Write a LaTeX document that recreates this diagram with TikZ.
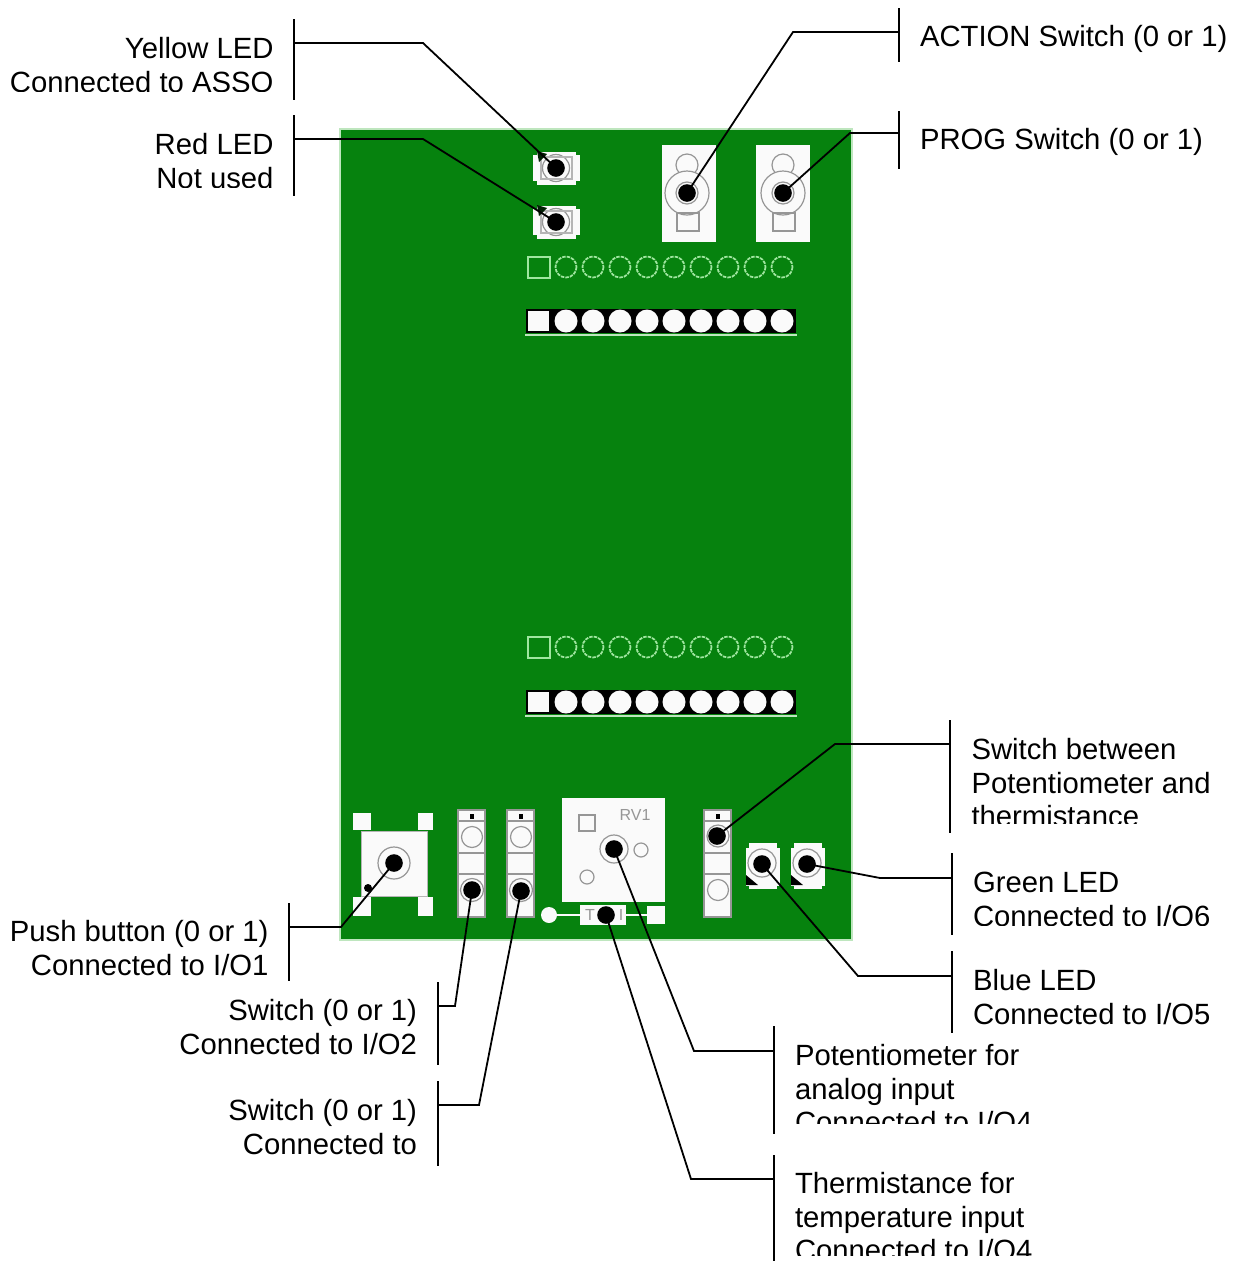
\documentclass[tikz,border=0pt]{standalone}
\usepackage{fontspec}
\setmainfont{Liberation Sans}
\definecolor{board}{RGB}{6,130,14}
\definecolor{edge}{RGB}{190,230,190}
\definecolor{pale}{RGB}{160,230,160}
\definecolor{ringc}{RGB}{150,150,150}
\definecolor{padw}{RGB}{250,250,250}
\tikzset{
  dotn/.style={circle,fill=black,draw=none,inner sep=0pt,minimum size=13.2pt},
  lead/.style={draw=black,line width=1.35pt,line join=miter},
  bar/.style={draw=black,line width=1.35pt},
  lbl/.style={inner sep=0pt,outer sep=0pt,font=\fontsize{21.95}{25.2}\selectfont},
  lblr/.style={lbl,anchor=north east,align=right},
  lbll/.style={lbl,anchor=north west,align=left},
  ring/.style={draw=ringc,line width=0.9pt},
  pad/.style={fill=padw,draw=none},
  strip/.style={fill=padw,draw=ringc,line width=1.2pt},
  hole/.style={draw=pale,line width=1.3pt,dash pattern=on 2.6pt off 0.8pt},
}
\begin{document}
\begin{tikzpicture}[x=0.75pt,y=-0.75pt]
\useasboundingbox (0,0) rectangle (1237,1261);
\fill[white] (0,0) rectangle (1237,1261);
% board
\fill[board,draw=edge,line width=1.2pt] (340,129) rectangle (852,940);
% top LEDs
\foreach \y in {168,222}{
  \fill[pad] (533,\y-13) rectangle (580,\y+13);
  \fill[pad] (537,\y-16) rectangle (576,\y+17);
  \draw[ring] (556,\y) circle (13.5);
  \draw[ring,draw=ringc!70] (541,\y-11) -- (541,\y+11) -- (572,\y+11) -- (572,\y-11) -- cycle;
  \fill[black!75!board] (537,\y-17) -- (547,\y-14) -- (539,\y-6) -- cycle;
}
% top switches
\foreach \x/\a/\b in {687/662/716,783/756/810}{
  \fill[pad] (\a,145) rectangle (\b,242);
  \draw[ring] (\x,165) circle (11);
  \draw[ring,fill=padw] (\x,193) circle (22);
  \draw[ring] (\x,193) circle (11);
  \draw[ring] (\x-10,213) rectangle (\x+12,231);
}
% header rows
\foreach \y in {267,647}{
  \draw[pale,line width=1pt] (528,\y-10) rectangle (550,\y+11);
  \foreach \i in {0,...,8}{ \draw[hole] (566+27*\i,\y) circle (10.5); }
}
\foreach \y in {321,702}{
  \fill[black] (526,\y-12) rectangle (796,\y+12);
  \draw[edge,line width=1pt] (525,\y+14) -- (797,\y+14);
  \fill[pad] (528,\y-10) rectangle (549,\y+10);
  \foreach \i in {0,...,8}{ \fill[padw] (566+27*\i,\y) circle (11.5); }
}
% push button
\fill[pad] (353,813) rectangle (371,830);
\fill[pad] (418,813) rectangle (433,830);
\fill[pad] (353,897) rectangle (371,916);
\fill[pad] (418,897) rectangle (433,916);
\fill[pad,draw=ringc!70,line width=0.7pt] (361,831) rectangle (427,896);
\draw[ring] (394,863) circle (16);
\fill[black] (368,888) circle (4);
% slide switches
\foreach \x in {472,521,718}{
  \draw[strip] (\x-14,810) rectangle (\x+13,917);
  \draw[ring] (\x-14,821) -- (\x+13,821);
  \draw[ring] (\x-14,853) -- (\x+13,853);
  \draw[ring] (\x-14,874) -- (\x+13,874);
  \fill[black] (\x-2,814) rectangle (\x+2,819);
}
\foreach \x in {472,521}{
  \draw[ring] (\x,837) circle (10.5);
  \draw[ring] (\x,890) circle (11.5);
}
\draw[ring] (718,836) circle (11);
\draw[ring] (718,890) circle (10.5);
% RV1
\fill[pad] (562,798) rectangle (665,902);
\draw[ring] (579,815) rectangle (595,831);
\draw[ring] (614,849) circle (14);
\draw[ring] (641,850) circle (7);
\draw[ring] (587,877) circle (7);
\node[inner sep=0pt,text=ringc,font=\fontsize{12}{14}\selectfont] (rvlabel) at (635,815) {RV1};
% thermistor
\draw[padw,line width=1.2pt] (549,915) -- (647,915);
\fill[padw] (549,915) circle (8);
\fill[pad] (580,905) rectangle (626,925);
\fill[pad] (647,906) rectangle (665,924);
\node[inner sep=0pt,text=ringc,font=\fontsize{12}{14}\selectfont] (tlabel) at (590,915) {T};
\node[inner sep=0pt,text=ringc,font=\fontsize{12}{14}\selectfont] (ilabel) at (621,915) {I};
% bottom LEDs
\foreach \x in {762,807}{
  \fill[pad] (\x-16,848) rectangle (\x+18,886);
  \fill[pad] (\x-13,843) rectangle (\x+15,889);
  \draw[ring] (\x,863) circle (14);
  \fill[black] (\x-16,875) -- (\x-16,885) -- (\x-4,885) -- cycle;
}
% probe dots
\node[dotn] (yled) at (556,168) {};
\node[dotn] (rled) at (556,222) {};
\node[dotn] (act) at (687,193) {};
\node[dotn] (prog) at (783,193) {};
\node[dotn] (sel) at (717,836) {};
\node[dotn] (gled) at (807,864) {};
\node[dotn] (bled) at (762,864) {};
\node[dotn] (pot) at (614,849) {};
\node[dotn] (therm) at (606,915) {};
\node[dotn] (push) at (394,863) {};
\node[dotn] (swa) at (472,890) {};
\node[dotn] (swb) at (521,891) {};
% bars
\coordinate (yA) at (294,19);  \coordinate (yB) at (294,100); \coordinate (yM) at (294,43);  \coordinate (yE) at (423,43);
\coordinate (rA) at (294,115); \coordinate (rB) at (294,196); \coordinate (rM) at (294,139); \coordinate (rE) at (423,139);
\coordinate (aA) at (899,8);   \coordinate (aB) at (899,62);  \coordinate (aM) at (899,32);  \coordinate (aE) at (793,32);
\coordinate (pA) at (899,111); \coordinate (pB) at (899,169); \coordinate (pM) at (899,133); \coordinate (pE) at (850,133);
\coordinate (sA) at (950,720); \coordinate (sB) at (950,833); \coordinate (sM) at (950,744); \coordinate (sE) at (835,744);
\coordinate (gA) at (952,853); \coordinate (gB) at (952,935); \coordinate (gM) at (952,878); \coordinate (gE) at (880,878);
\coordinate (bA) at (952,951); \coordinate (bB) at (952,1033);\coordinate (bM) at (952,976); \coordinate (bE) at (858,976);
\coordinate (oA) at (774,1026);\coordinate (oB) at (774,1134);\coordinate (oM) at (774,1051);\coordinate (oE) at (694,1051);
\coordinate (tA) at (774,1155);\coordinate (tB) at (774,1261);\coordinate (tM) at (774,1179);\coordinate (tE) at (691,1179);
\coordinate (uA) at (289,903); \coordinate (uB) at (289,981); \coordinate (uM) at (289,927); \coordinate (uE) at (341,927);
\coordinate (vA) at (438,982); \coordinate (vB) at (438,1065);\coordinate (vM) at (438,1006);\coordinate (vE) at (455,1006);
\coordinate (wA) at (438,1081);\coordinate (wB) at (438,1166);\coordinate (wM) at (438,1105);\coordinate (wE) at (479,1105);
\foreach \n in {y,r,a,p,s,g,b,o,t,u,v,w}{ \draw[bar] (\n A) -- (\n B); }
\draw[lead] (yM) -- (yE) -- (yled.center);
\draw[lead] (rM) -- (rE) -- (rled.center);
\draw[lead] (aM) -- (aE) -- (act.center);
\draw[lead] (pM) -- (pE) -- (prog.center);
\draw[lead] (sM) -- (sE) -- (sel.center);
\draw[lead] (gM) -- (gE) -- (gled.center);
\draw[lead] (bM) -- (bE) -- (bled.center);
\draw[lead] (oM) -- (oE) -- (pot.center);
\draw[lead] (tM) -- (tE) -- (therm.center);
\draw[lead] (uM) -- (uE) -- (push.center);
\draw[lead] (vM) -- (vE) -- (swa.center);
\draw[lead] (wM) -- (wE) -- (swb.center);
% labels
\begin{scope}\clip (0,0) rectangle (290,91);
\node[lblr] (tyellow) at (273.5,35) {\strut Yellow LED\\Connected to ASSO};
\end{scope}
\begin{scope}\clip (0,110) rectangle (290,187);
\node[lblr] (tred) at (273.5,131) {\strut Red LED\\Not used};
\end{scope}
\node[lbll] (taction) at (920,23) {\strut ACTION Switch (0 or 1)};
\node[lbll] (tprog) at (920,126) {\strut PROG Switch (0 or 1)};
\begin{scope}\clip (955,720) rectangle (1237,823);
\node[lbll] (tsel) at (971.5,736) {\strut Switch between\\Potentiometer and\\thermistance};
\end{scope}
\begin{scope}\clip (955,850) rectangle (1237,925);
\node[lbll] (tgreen) at (973,869) {\strut Green LED\\Connected to I/O6};
\end{scope}
\node[lbll] (tblue) at (973,967) {\strut Blue LED\\Connected to I/O5};
\begin{scope}\clip (780,1030) rectangle (1100,1123);
\node[lbll] (tpot) at (795,1042) {\strut Potentiometer for\\analog input\\Connected to I/O4};
\end{scope}
\begin{scope}\clip (780,1155) rectangle (1100,1255);
\node[lbll] (tth) at (795,1170) {\strut Thermistance for\\temperature input\\Connected to I/O4};
\end{scope}
\node[lblr] (tpush) at (268.5,918) {\strut Push button (0 or 1)\\Connected to I/O1};
\node[lblr] (tswa) at (417,997) {\strut Switch (0 or 1)\\Connected to I/O2};
\node[lblr] (tswb) at (417,1097) {\strut Switch (0 or 1)\\Connected to};
\end{tikzpicture}
\end{document}
